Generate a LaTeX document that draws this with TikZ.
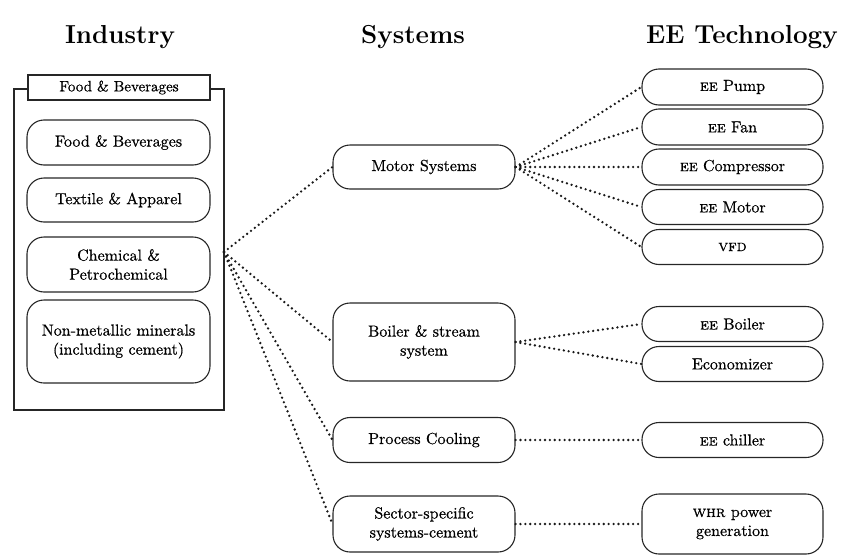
\documentclass[tikz,border=0pt]{standalone}
\usepackage{fontspec}
\newfontfamily\semifont{lmroman10-regular.otf}[FakeBold=0.6,
  SmallCapsFont=lmromancaps10-regular.otf, SmallCapsFeatures={FakeBold=0.6}]
\usetikzlibrary{positioning}
\begin{document}
\begin{tikzpicture}[x=1pt,y=-1pt,
  box/.style={draw=black!85, line width=1.1pt, rounded corners=17pt, inner sep=0pt,
    align=center, font=\semifont\fontsize{16}{19}\selectfont},
  indbox/.style={box, minimum width=183pt},
  sysbox/.style={box, minimum width=182pt},
  techbox/.style={box, minimum width=181pt},
  head/.style={font=\fontsize{26}{30}\selectfont\bfseries, inner sep=0pt},
  link/.style={line width=2.6pt, dash pattern=on 0pt off 4.9pt, line cap=round, black!90}
]
\useasboundingbox (0,0) rectangle (843,554);

% headings
\node[head] (hInd) at (120,37) {Industry};
\node[head] (hSys) at (413,37) {Systems};
\node[head] (hTech) at (742,37) {EE Technology};

% industry frame
\node[draw=black!85, line width=1.1pt, minimum width=210pt, minimum height=321pt, inner sep=0pt] (outer) at (119,249.5) {};
\node[draw=black!85, line width=1.1pt, fill=white, minimum width=182pt, minimum height=25pt, inner sep=0pt,
  font=\semifont\fontsize{15}{17}\selectfont] (title) at (119,87.5) {Food \& Beverages};

\node[indbox, minimum height=45pt] (food) at (118.5,142.5) {Food \& Beverages};
\node[indbox, minimum height=44pt] (tex) at (118.5,200) {Textile \& Apparel};
\node[indbox, minimum height=55pt] (chem) at (118.5,264.5) {Chemical \&\\Petrochemical};
\node[indbox, minimum height=83pt] (nonm) at (118.5,341.5) {Non-metallic minerals\\(including cement)};

% systems
\node[sysbox, minimum height=44pt] (motor) at (424,167) {Motor Systems};
\node[sysbox, minimum height=78pt] (boiler) at (424,342) {Boiler \& stream\\system};
\node[sysbox, minimum height=45pt] (cool) at (424,440) {Process Cooling};
\node[sysbox, minimum height=56pt] (sector) at (424,524) {Sector-specific\\systems-cement};

% technology
\node[techbox, minimum height=36pt] (pump) at (732.5,87) {\textsc{ee} Pump};
\node[techbox, minimum height=36pt] (fan) at (732.5,127) {\textsc{ee} Fan};
\node[techbox, minimum height=36pt] (comp) at (732.5,167) {\textsc{ee} Compressor};
\node[techbox, minimum height=35pt] (emotor) at (732.5,207) {\textsc{ee} Motor};
\node[techbox, minimum height=35pt] (vfd) at (732.5,247) {\textsc{vfd}};
\node[techbox, minimum height=35pt] (eboiler) at (732.5,324) {\textsc{ee} Boiler};
\node[techbox, minimum height=35pt] (econ) at (732.5,364) {Economizer};
\node[techbox, minimum height=35pt] (chill) at (732.5,440) {\textsc{ee} chiller};
\node[techbox, minimum height=60pt] (whr) at (732.5,524) {\textsc{whr} power\\generation};

% connectors
\coordinate (src) at (224,252);
\foreach \t in {motor,boiler,cool,sector}
  \draw[link] (src) -- (\t.west);
\foreach \t in {pump,fan,comp,emotor,vfd}
  \draw[link] (motor.east) -- (\t.west);
\foreach \t in {eboiler,econ}
  \draw[link] (boiler.east) -- (\t.west);
\draw[link] (cool.east) -- (chill.west);
\draw[link] (sector.east) -- (whr.west);
\end{tikzpicture}
\end{document}
